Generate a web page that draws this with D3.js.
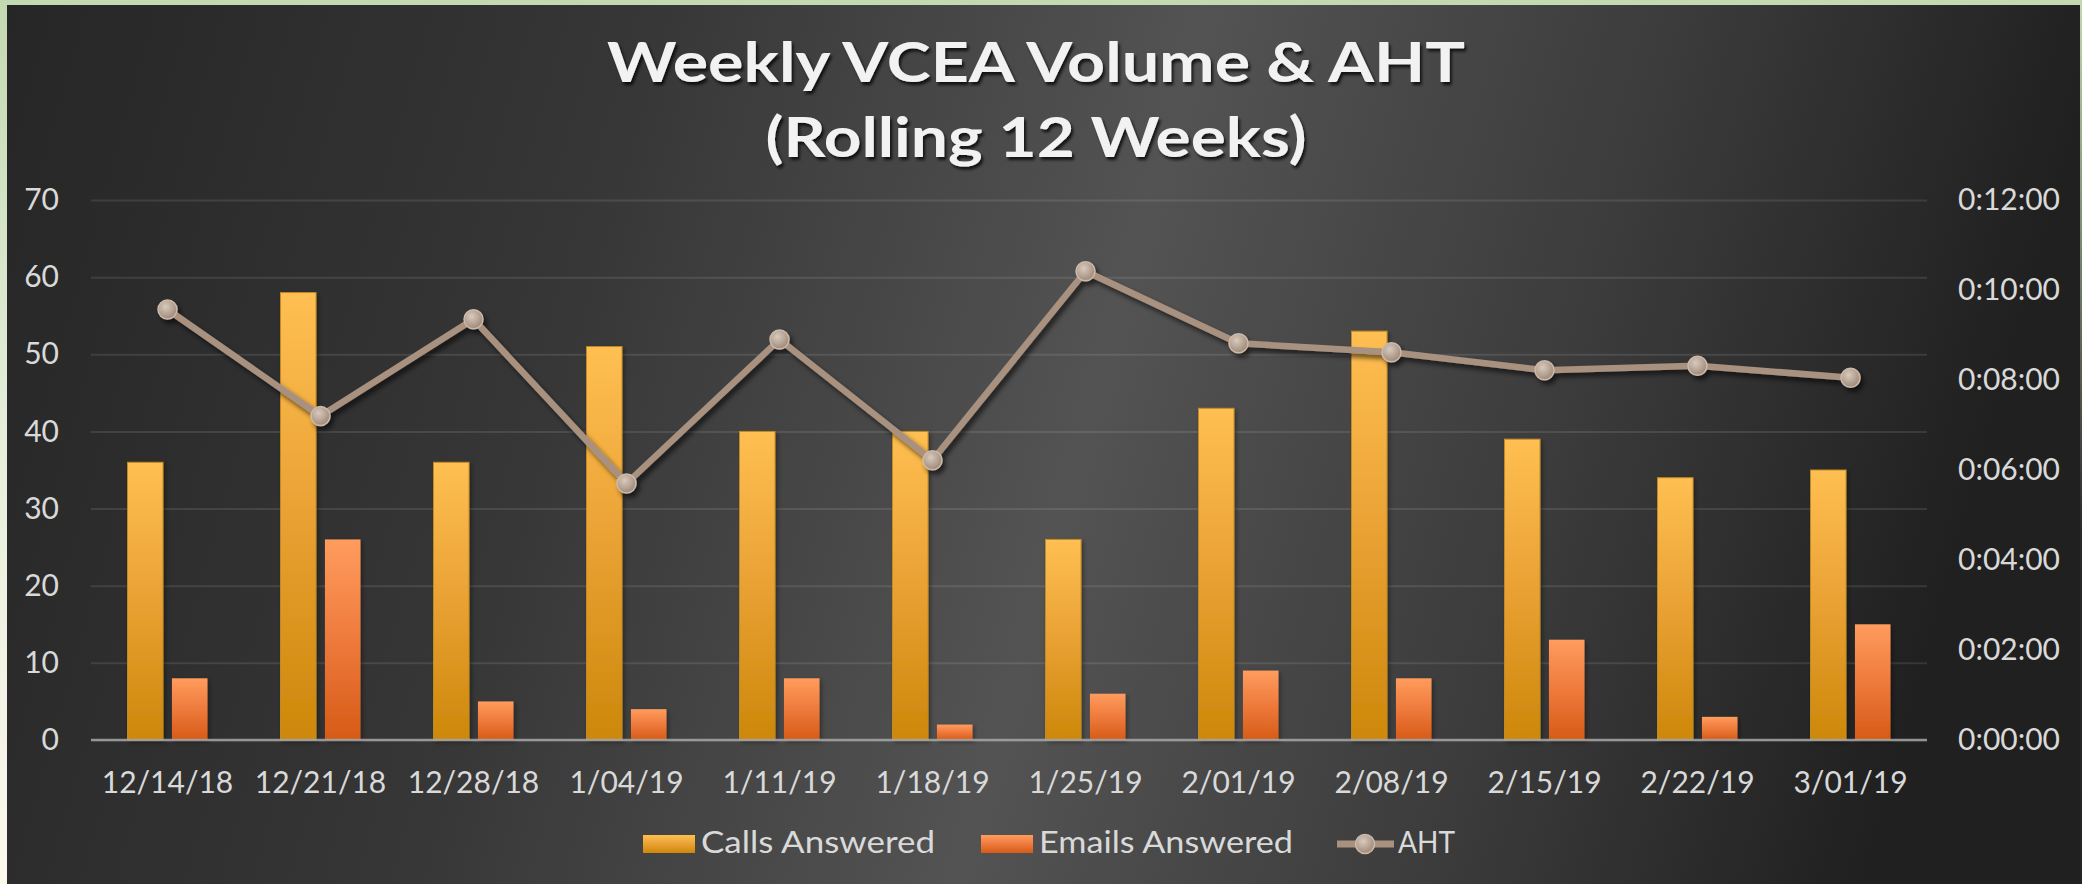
<!DOCTYPE html>
<html>
<head>
<meta charset="utf-8">
<script src="https://cdn.jsdelivr.net/npm/d3@7"></script>
<style>
  body { margin: 0; background: #262626; overflow: hidden; }
  text { font-family: Lato, "Open Sans", sans-serif; }
</style>
</head>
<body>
<div id="chart"></div>
<script>
// data
var weeks = ["12/14/18", "12/21/18", "12/28/18", "1/04/19", "1/11/19", "1/18/19",
             "1/25/19", "2/01/19", "2/08/19", "2/15/19", "2/22/19", "3/01/19"];
var callsAnswered = [36, 58, 36, 51, 40, 40, 26, 43, 53, 39, 34, 35];
var emailsAnswered = [8, 26, 5, 4, 8, 2, 6, 9, 8, 13, 3, 15];
var aht = ["0:09:34", "0:07:12", "0:09:21", "0:05:42", "0:08:54", "0:06:13",
           "0:10:25", "0:08:49", "0:08:37", "0:08:13", "0:08:19", "0:08:03"];
var leftTicks = [0, 10, 20, 30, 40, 50, 60, 70];
var rightTicks = ["0:00:00", "0:02:00", "0:04:00", "0:06:00", "0:08:00", "0:10:00", "0:12:00"];
var titleLines = ["Weekly VCEA Volume & AHT", "(Rolling 12 Weeks)"];
var seriesNames = ["Calls Answered", "Emails Answered", "AHT"];

function toSec(s) {
  var p = s.split(":").map(Number);
  return p[0] * 3600 + p[1] * 60 + p[2];
}

var W = 2082, H = 884;
var margin = {top: 200, right: 155, bottom: 144, left: 91};
var width = W - margin.left - margin.right;
var height = H - margin.top - margin.bottom;

var svg = d3.select("#chart").append("svg")
    .attr("width", W)
    .attr("height", H);

var defs = svg.append("defs");

function linGrad(id, x2, y2, stops) {
  var g = defs.append("linearGradient").attr("id", id)
      .attr("x1", 0).attr("y1", 0).attr("x2", x2).attr("y2", y2);
  stops.forEach(function(s) {
    g.append("stop").attr("offset", s[0]).attr("stop-color", s[1]);
  });
}
linGrad("frame", 0, 1, [[0, "#c3d9b1"], [0.5, "#e6efdc"], [1, "#fdf8ec"]]);
linGrad("rightEdge", 0, 1, [[0, "#c3d9b1"], [0.6, "#2a2a2a"], [1, "#242424"]]);
linGrad("panel", 1, 0.12, [[0, "#262626"], [0.3, "#363636"], [0.57, "#535353"], [0.8, "#3b3b3b"], [1, "#202020"]]);
linGrad("calls", 0, 1, [[0, "#ffbf52"], [0.5, "#e9a133"], [1, "#cd880a"]]);
linGrad("emails", 0, 1, [[0, "#ff9c5e"], [0.5, "#ee7a3c"], [1, "#d65b17"]]);

var rg = defs.append("radialGradient").attr("id", "marker")
    .attr("cx", 0.4).attr("cy", 0.35).attr("r", 0.7);
rg.append("stop").attr("offset", 0).attr("stop-color", "#d8cabd");
rg.append("stop").attr("offset", 1).attr("stop-color", "#9c8574");

function shadow(id, dx, dy, sd, op) {
  defs.append("filter").attr("id", id)
      .attr("x", "-20%").attr("y", "-20%").attr("width", "150%").attr("height", "150%")
    .append("feDropShadow")
      .attr("dx", dx).attr("dy", dy).attr("stdDeviation", sd)
      .attr("flood-color", "#000").attr("flood-opacity", op);
}
shadow("barShadow", 2, 2, 2, 0.35);
shadow("lineShadow", 3, 4, 2.5, 0.6);
shadow("titleShadow", 2, 3, 1.5, 0.75);

// frame + dark panel
svg.append("rect").attr("width", W).attr("height", H).attr("fill", "url(#frame)");
svg.append("rect").attr("x", 7).attr("y", 5).attr("width", W - 9).attr("height", H - 5)
    .attr("fill", "url(#panel)");
svg.append("rect").attr("x", W - 2).attr("y", 0).attr("width", 2).attr("height", H)
    .attr("fill", "url(#rightEdge)");

// title
svg.selectAll(".title")
  .data(titleLines)
  .enter().append("text")
    .attr("class", "title")
    .attr("x", 1036)
    .attr("y", function(d, i) { return i == 0 ? 82 : 157; })
    .attr("text-anchor", "middle")
    .attr("textLength", function(d, i) { return i == 0 ? 858 : 541; })
    .attr("lengthAdjust", "spacingAndGlyphs")
    .style("font-size", "56px")
    .style("font-weight", 700)
    .attr("fill", "#f2f2f2")
    .attr("filter", "url(#titleShadow)")
    .text(function(d) { return d; });

var g = svg.append("g")
    .attr("transform", "translate(" + margin.left + "," + margin.top + ")");

var x = d3.scaleBand().domain(weeks).range([0, width]);
var xSub = d3.scaleBand().domain(["calls", "emails"])
    .range([x.bandwidth() / 2 - 40, x.bandwidth() / 2 + 40])
    .paddingInner(0.2);
var y = d3.scaleLinear().domain([0, 70]).range([height, 0]);
var y2 = d3.scaleLinear().domain([0, toSec("0:12:00")]).range([height, 0]);

// left axis with gridlines
g.append("g")
    .attr("class", "y-axis")
    .call(d3.axisLeft(y).tickValues(leftTicks).tickSize(-width).tickPadding(32))
    .call(function(a) {
      a.select(".domain").remove();
      a.selectAll("line").attr("stroke", "#ffffff").attr("stroke-opacity", 0.1).attr("stroke-width", 2);
      a.selectAll("text").attr("fill", "#d9d9d9").style("font-size", "30px");
    });

// right axis (AHT)
g.append("g")
    .attr("class", "y2-axis")
    .attr("transform", "translate(" + width + ",0)")
    .call(d3.axisRight(y2).tickValues(rightTicks.map(toSec)).tickSize(0).tickPadding(31)
      .tickFormat(function(d, i) { return rightTicks[i]; }))
    .call(function(a) {
      a.select(".domain").remove();
      a.selectAll("text").attr("fill", "#d9d9d9").style("font-size", "30px");
    });

// x axis labels
g.append("g")
    .attr("class", "x-axis")
    .attr("transform", "translate(0," + height + ")")
    .call(d3.axisBottom(x).tickSize(0).tickPadding(32))
    .call(function(a) {
      a.select(".domain").remove();
      a.selectAll("text").attr("fill", "#d9d9d9").style("font-size", "30px");
    });

// bars
var rows = weeks.map(function(w, i) {
  return {week: w, calls: callsAnswered[i], emails: emailsAnswered[i]};
});

var groups = g.selectAll(".week")
  .data(rows)
  .enter().append("g")
    .attr("class", "week")
    .attr("transform", function(d) { return "translate(" + x(d.week) + ",0)"; });

groups.selectAll("rect")
  .data(function(d) { return [{k: "calls", v: d.calls}, {k: "emails", v: d.emails}]; })
  .enter().append("rect")
    .attr("x", function(d) { return xSub(d.k); })
    .attr("y", function(d) { return y(d.v); })
    .attr("width", xSub.bandwidth())
    .attr("height", function(d) { return height - y(d.v); })
    .attr("fill", function(d) { return "url(#" + d.k + ")"; })
    .attr("stroke", function(d) { return d.k == "calls" ? "#c08a25" : "none"; })
    .attr("stroke-width", 1)
    .attr("filter", "url(#barShadow)");

// baseline
g.append("line")
    .attr("x1", 0).attr("x2", width)
    .attr("y1", y(0)).attr("y2", y(0))
    .attr("stroke", "#a6a6a6")
    .attr("stroke-opacity", 0.85)
    .attr("stroke-width", 2.5);

// AHT line
var ahtPts = weeks.map(function(w, i) { return {week: w, sec: toSec(aht[i])}; });

var lineLayer = g.append("g").attr("filter", "url(#lineShadow)");

lineLayer.append("path")
    .datum(ahtPts)
    .attr("fill", "none")
    .attr("stroke", "#a99180")
    .attr("stroke-width", 6.5)
    .attr("stroke-linejoin", "round")
    .attr("d", d3.line()
        .x(function(d) { return x(d.week) + x.bandwidth() / 2; })
        .y(function(d) { return y2(d.sec); }));

lineLayer.selectAll("circle")
  .data(ahtPts)
  .enter().append("circle")
    .attr("cx", function(d) { return x(d.week) + x.bandwidth() / 2; })
    .attr("cy", function(d) { return y2(d.sec); })
    .attr("r", 9.5)
    .attr("fill", "url(#marker)")
    .attr("stroke", "#cbbaab")
    .attr("stroke-width", 1.5);

// legend
var legendX = [643, 981, 1337];
var legendTextW = [234, 254, 57];
var legend = svg.selectAll(".legend")
  .data(seriesNames)
  .enter().append("g")
    .attr("class", "legend")
    .attr("transform", function(d, i) { return "translate(" + legendX[i] + ",835)"; });

legend.filter(function(d, i) { return i < 2; })
  .append("rect")
    .attr("width", 52)
    .attr("height", 18)
    .attr("fill", function(d, i) { return i == 0 ? "url(#calls)" : "url(#emails)"; });

var ahtKey = legend.filter(function(d, i) { return i == 2; });
ahtKey.append("line")
    .attr("x1", 0).attr("x2", 57).attr("y1", 9).attr("y2", 9)
    .attr("stroke", "#a99180").attr("stroke-width", 7);
ahtKey.append("circle")
    .attr("cx", 28).attr("cy", 9).attr("r", 9.5)
    .attr("fill", "url(#marker)").attr("stroke", "#cbbaab").attr("stroke-width", 1.5);

legend.append("text")
    .attr("x", function(d, i) { return i == 2 ? 61 : 58; })
    .attr("y", 18)
    .attr("textLength", function(d, i) { return legendTextW[i]; })
    .attr("lengthAdjust", "spacingAndGlyphs")
    .attr("fill", "#d9d9d9")
    .style("font-size", "30px")
    .text(function(d) { return d; });
</script>
</body>
</html>
